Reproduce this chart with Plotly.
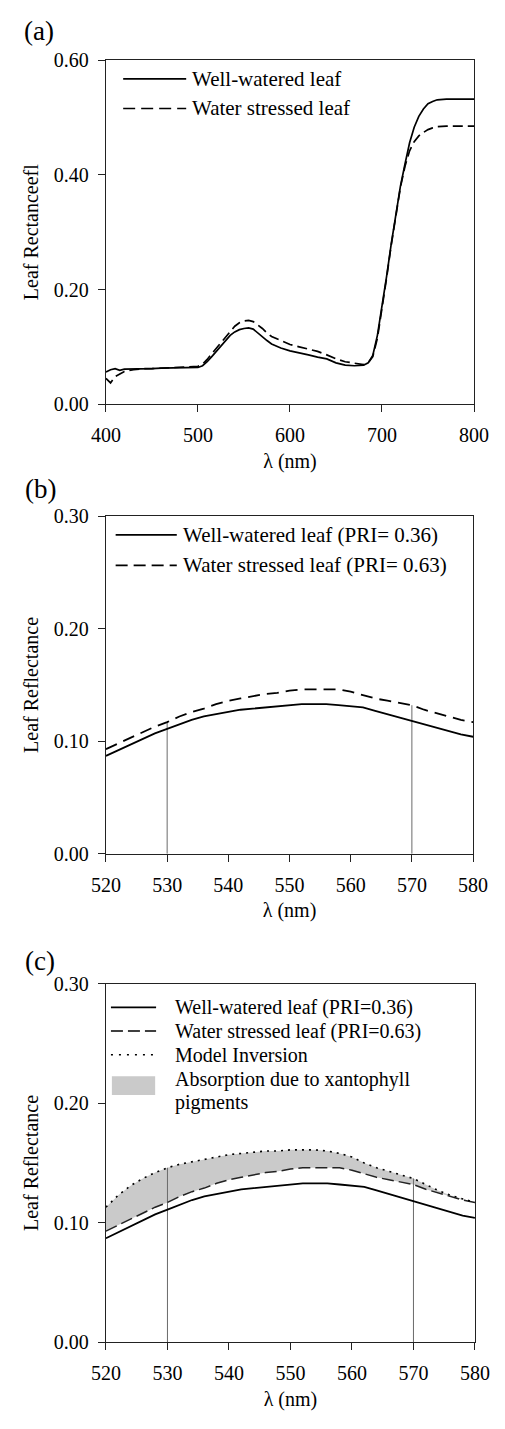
import numpy as np
import plotly.graph_objects as go

# ---------------- data ----------------
lam_a = [400, 405, 410, 415, 420, 430, 440, 450, 460, 470, 480, 490, 500, 505, 510, 515,
         520, 525, 530, 535, 540, 545, 550, 555, 560, 565, 570, 575, 580, 590, 600, 610,
         620, 630, 640, 650, 660, 670, 680, 685, 690, 695, 700, 705, 710, 715, 720, 725,
         730, 735, 740, 745, 750, 755, 760, 770, 780, 790, 800]
well_a = [0.056, 0.060, 0.062, 0.059, 0.061, 0.061, 0.062, 0.062, 0.063, 0.063, 0.063, 0.063,
          0.064, 0.067, 0.074, 0.083, 0.092, 0.102, 0.111, 0.120, 0.126, 0.130, 0.132, 0.133,
          0.131, 0.124, 0.118, 0.111, 0.105, 0.098, 0.093, 0.090, 0.086, 0.082, 0.079, 0.072,
          0.068, 0.067, 0.068, 0.072, 0.085, 0.120, 0.170, 0.223, 0.279, 0.333, 0.380, 0.419,
          0.456, 0.483, 0.502, 0.515, 0.524, 0.528, 0.531, 0.532, 0.532, 0.532, 0.532]
stress_a = [0.045, 0.037, 0.048, 0.052, 0.057, 0.060, 0.062, 0.062, 0.063, 0.064, 0.064, 0.065,
            0.066, 0.070, 0.078, 0.088, 0.098, 0.108, 0.117, 0.126, 0.136, 0.142, 0.145, 0.146,
            0.144, 0.138, 0.132, 0.124, 0.118, 0.111, 0.104, 0.100, 0.096, 0.092, 0.086, 0.079,
            0.074, 0.071, 0.069, 0.072, 0.083, 0.115, 0.165, 0.220, 0.277, 0.330, 0.378, 0.415,
            0.442, 0.458, 0.468, 0.474, 0.479, 0.482, 0.484, 0.485, 0.485, 0.485, 0.485]

lam_b = [520, 522, 524, 526, 528, 530, 532, 534, 536, 538, 540, 542, 544, 546, 548, 550,
         552, 554, 556, 558, 560, 562, 564, 566, 568, 570, 572, 574, 576, 578, 580]
well_b = [0.087, 0.092, 0.097, 0.102, 0.107, 0.111, 0.115, 0.119, 0.122, 0.124, 0.126, 0.128,
          0.129, 0.130, 0.131, 0.132, 0.133, 0.133, 0.133, 0.132, 0.131, 0.130, 0.127, 0.124,
          0.121, 0.118, 0.115, 0.112, 0.109, 0.106, 0.104]
stress_b = [0.093, 0.098, 0.103, 0.108, 0.113, 0.117, 0.122, 0.126, 0.129, 0.133, 0.136, 0.138,
            0.140, 0.142, 0.143, 0.145, 0.146, 0.146, 0.146, 0.146, 0.144, 0.141, 0.138, 0.136,
            0.134, 0.132, 0.128, 0.125, 0.122, 0.119, 0.117]
model_c = [0.113, 0.123, 0.131, 0.137, 0.142, 0.146, 0.149, 0.151, 0.153, 0.155, 0.157, 0.158,
           0.159, 0.160, 0.160, 0.161, 0.161, 0.161, 0.160, 0.158, 0.155, 0.150, 0.146, 0.143,
           0.140, 0.137, 0.132, 0.127, 0.123, 0.120, 0.117]
pri_bands = [530, 570]

ticks_a_x = [400, 500, 600, 700, 800]
ticks_a_y = [0.0, 0.2, 0.4, 0.6]
ticks_bc_x = [520, 530, 540, 550, 560, 570, 580]
ticks_bc_y = [0.0, 0.1, 0.2, 0.3]

labels_ab = ["Well-watered leaf", "Water stressed leaf"]
labels_b = ["Well-watered leaf (PRI= 0.36)", "Water stressed leaf (PRI= 0.63)"]
labels_c = ["Well-watered leaf (PRI=0.36)", "Water stressed leaf (PRI=0.63)",
            "Model Inversion", "Absorption due to xantophyll", "pigments"]

# ---------------- layout helpers ----------------
W, H = 505, 1429
FONT = "Liberation Serif, Tinos, 'Times New Roman', 'DejaVu Serif', serif"
AX = "#222222"
FILL = "#cacaca"
VLINE = "#6a6a6a"


def fx(p):
    return p / W


def fy(p):
    return 1 - p / H


fig = go.Figure()

# panel (a)
fig.add_trace(go.Scatter(x=lam_a, y=well_a, mode="lines", xaxis="x", yaxis="y",
                         line=dict(color="black", width=1.7)))
fig.add_trace(go.Scatter(x=lam_a, y=stress_a, mode="lines", xaxis="x", yaxis="y",
                         line=dict(color="black", width=1.7, dash="10px,5px")))

# panel (b)
for lb in pri_bands:
    fig.add_trace(go.Scatter(x=[lb, lb], y=[0, float(np.interp(lb, lam_b, stress_b))],
                             mode="lines", xaxis="x2", yaxis="y2",
                             line=dict(color=VLINE, width=1)))
fig.add_trace(go.Scatter(x=lam_b, y=well_b, mode="lines", xaxis="x2", yaxis="y2",
                         line=dict(color="black", width=1.8)))
fig.add_trace(go.Scatter(x=lam_b, y=stress_b, mode="lines", xaxis="x2", yaxis="y2",
                         line=dict(color="black", width=1.8, dash="12px,7px")))

# panel (c)
fig.add_trace(go.Scatter(x=lam_b, y=stress_b, mode="lines", xaxis="x3", yaxis="y3",
                         line=dict(width=0), hoverinfo="skip"))
fig.add_trace(go.Scatter(x=lam_b, y=model_c, mode="lines", xaxis="x3", yaxis="y3",
                         fill="tonexty", fillcolor=FILL, line=dict(width=0), hoverinfo="skip"))
for lb in pri_bands:
    fig.add_trace(go.Scatter(x=[lb, lb], y=[0, float(np.interp(lb, lam_b, model_c))],
                             mode="lines", xaxis="x3", yaxis="y3",
                             line=dict(color=VLINE, width=1)))
fig.add_trace(go.Scatter(x=lam_b, y=well_b, mode="lines", xaxis="x3", yaxis="y3",
                         line=dict(color="black", width=1.8)))
fig.add_trace(go.Scatter(x=lam_b, y=stress_b, mode="lines", xaxis="x3", yaxis="y3",
                         line=dict(color="#222222", width=1.5, dash="12px,5px")))
fig.add_trace(go.Scatter(x=lam_b, y=model_c, mode="lines", xaxis="x3", yaxis="y3",
                         line=dict(color="black", width=1.6, dash="2px,5px")))

common = dict(showline=True, linecolor=AX, linewidth=1.2, mirror=True, ticks="outside",
              ticklen=7, tickwidth=1.2, tickcolor=AX, showgrid=False, zeroline=False,
              tickfont=dict(family=FONT, size=20, color="black"))
xcommon = dict(common, ticklabelstandoff=6)
ycommon = dict(common, ticklabelstandoff=5)
tfont = dict(family=FONT, size=20, color="black")

fig.update_layout(
    width=W, height=H, margin=dict(l=0, r=0, t=0, b=0),
    paper_bgcolor="white", plot_bgcolor="white", showlegend=False,
    font=dict(family=FONT, size=20, color="black"),
    xaxis=dict(domain=[fx(96.7), fx(488)], range=[400, 800], tickvals=ticks_a_x, anchor="y",
               title=dict(text="λ (nm)", font=tfont, standoff=8), **xcommon),
    yaxis=dict(domain=[fy(399.3), fy(50)], range=[0, 0.6], tickvals=ticks_a_y, tickformat=".2f",
               anchor="x", title=dict(text="Leaf Rectanceefl", font=tfont, standoff=9), **ycommon),
    xaxis2=dict(domain=[fx(96.7), fx(487)], range=[520, 580], tickvals=ticks_bc_x, anchor="y2",
                title=dict(text="λ (nm)", font=tfont, standoff=8), **xcommon),
    yaxis2=dict(domain=[fy(856), fy(513)], range=[0, 0.3], tickvals=ticks_bc_y, tickformat=".2f",
                anchor="x2", title=dict(text="Leaf Reflectance", font=tfont, standoff=9), **ycommon),
    xaxis3=dict(domain=[fx(96.7), fx(489)], range=[520, 580], tickvals=ticks_bc_x, anchor="y3",
                title=dict(text="λ (nm)", font=tfont, standoff=8), **xcommon),
    yaxis3=dict(domain=[fy(1352), fy(988)], range=[0, 0.3], tickvals=ticks_bc_y, tickformat=".2f",
                anchor="x3", title=dict(text="Leaf Reflectance", font=tfont, standoff=9), **ycommon),
)

shapes = []
annots = []

# panel labels
for txt, cx, cy in [("(a)", 26, 20), ("(b)", 27, 485), ("(c)", 27, 965)]:
    annots.append(dict(text=txt, x=fx(cx), y=fy(cy), xref="paper", yref="paper",
                       xanchor="center", yanchor="middle", showarrow=False,
                       font=dict(family=FONT, size=27, color="black")))


def key_line(x0, x1, yp, dash, width=1.7):
    shapes.append(dict(type="line", xref="paper", yref="paper", x0=fx(x0), x1=fx(x1),
                       y0=fy(yp), y1=fy(yp), line=dict(color="black", width=width, dash=dash)))


def key_text(txt, xp, yp, size):
    annots.append(dict(text=txt, x=fx(xp), y=fy(yp), xref="paper", yref="paper",
                       xanchor="left", yanchor="middle", showarrow=False,
                       font=dict(family=FONT, size=size, color="black")))


# legend (a)
key_line(115, 182, 69, "solid")
key_line(115, 182, 99, "12px,6px")
key_text(labels_ab[0], 186, 69, 21)
key_text(labels_ab[1], 186, 99, 21)

# legend (b)
key_line(107, 172, 532, "solid")
key_line(107, 172, 563, "12px,6px")
key_text(labels_b[0], 176, 532, 21)
key_text(labels_b[1], 176, 563, 21)

# legend (c)
key_line(102, 150, 1012, "solid")
key_line(102, 150, 1036, "12px,5px", 1.5)
key_line(102, 150, 1060, "2px,6px", 1.6)
shapes.append(dict(type="rect", xref="paper", yref="paper", x0=fx(103), x1=fx(149),
                   y0=fy(1101), y1=fy(1082), fillcolor=FILL, line=dict(width=0)))
key_text(labels_c[0], 168, 1012, 20)
key_text(labels_c[1], 168, 1036, 20)
key_text(labels_c[2], 168, 1060, 20)
key_text(labels_c[3], 168, 1085, 20)
key_text(labels_c[4], 168, 1109, 20)

fig.update_layout(shapes=shapes, annotations=annots)
fig.write_html("out.html")
